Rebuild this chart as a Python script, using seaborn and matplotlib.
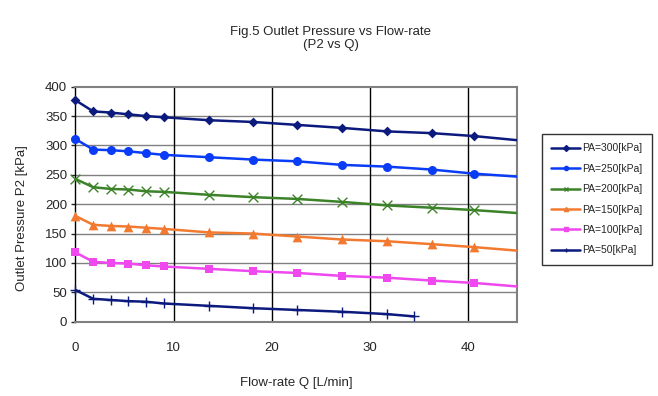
import matplotlib
matplotlib.use("Agg")
import matplotlib.pyplot as plt
from matplotlib.lines import Line2D
import pandas as pd
import seaborn as sns

# flow-rate points (L/min)
q = [0, 1.8, 3.6, 5.4, 7.2, 9.0, 13.6, 18.1, 22.6, 27.1, 31.7, 36.3, 40.6]
q_50 = [0, 1.8, 3.6, 5.4, 7.2, 9.0, 13.6, 18.1, 22.6, 27.1, 31.7, 34.5]

p2_300 = [377, 358, 356, 353, 350, 348, 343, 340, 335, 330, 324, 321, 316]
p2_250 = [311, 293, 292, 290, 287, 284, 280, 276, 273, 267, 264, 259, 252]
p2_200 = [243, 229, 226, 225, 222, 221, 216, 212, 209, 204, 198, 194, 190]
p2_150 = [180, 165, 163, 162, 160, 158, 152, 150, 145, 140, 137, 132, 127]
p2_100 = [118, 102, 100, 99, 96, 94, 90, 86, 83, 78, 75, 70, 66]
p2_50 = [54, 39, 37, 35, 34, 31, 27, 23, 20, 17, 13, 9]

# trend lines run on to the right edge of the axis
q_end = 45
p2_end = {"PA=300[kPa]": 309, "PA=250[kPa]": 247, "PA=200[kPa]": 185,
          "PA=150[kPa]": 121, "PA=100[kPa]": 60}

series = [
    ("PA=300[kPa]", q, p2_300, "#0c1a7e", "D", 5.0),
    ("PA=250[kPa]", q, p2_250, "#0a3cf5", "o", 6.5),
    ("PA=200[kPa]", q, p2_200, "#3b8228", "x", 7.0),
    ("PA=150[kPa]", q, p2_150, "#f27a30", "^", 7.0),
    ("PA=100[kPa]", q, p2_100, "#ee48ee", "s", 6.0),
    ("PA=50[kPa]", q_50, p2_50, "#0c1a7e", "+", 7.5),
]

sns.set_style("white")
plt.rcParams['font.family'] = ['Liberation Sans', 'DejaVu Sans']

fig = plt.figure(figsize=(6.58, 3.96), dpi=100)
ax = fig.add_axes([0.1147, 0.1876, 0.6714, 0.5934])

handles = []
for name, xs, ys, color, mk, ms in series:
    lx = list(xs) + ([q_end] if name in p2_end else [])
    ly = list(ys) + ([p2_end[name]] if name in p2_end else [])
    line_df = pd.DataFrame({"Q": lx, "P2": ly})
    sns.lineplot(data=line_df, x="Q", y="P2", ax=ax, color=color, lw=1.8,
                 estimator=None, sort=False, zorder=3)
    pts = pd.DataFrame({"Q": xs, "P2": ys})
    kw = dict(marker=mk, s=ms ** 2, color=color, zorder=4, clip_on=False)
    if mk in ("x", "+"):
        kw["linewidth"] = 1.0
    else:
        kw["edgecolor"] = color
        kw["linewidth"] = 0
    sns.scatterplot(data=pts, x="Q", y="P2", ax=ax, legend=False, **kw)
    handles.append(Line2D([], [], color=color, lw=1.8, marker=mk,
                          markersize=3.0, markeredgewidth=1.0, label=name))

ax.set_xlim(0, 45)
ax.set_ylim(0, 400)
ax.set_xticks([0, 10, 20, 30, 40])
ax.set_yticks(range(0, 401, 50))

for y in range(50, 400, 50):
    ax.axhline(y, color="#808080", lw=1.0, zorder=1)
for x in [10, 20, 30, 40]:
    ax.axvline(x, color="black", lw=1.0, zorder=1)

for side in ["top", "right", "bottom"]:
    ax.spines[side].set_color("#808080")
    ax.spines[side].set_linewidth(1.5)
ax.spines["left"].set_color("black")
ax.spines["left"].set_linewidth(1.0)

ax.tick_params(axis="y", left=True, length=3, width=1, labelsize=9.5, pad=3)
ax.tick_params(axis="x", bottom=False, labelsize=9.5, pad=11)

ax.set_xlabel("Flow-rate Q [L/min]", fontsize=9.5, labelpad=17)
ax.set_ylabel("Outlet Pressure P2 [kPa]", fontsize=9.5)
ax.yaxis.set_label_coords(-0.108, 0.44)

fig.text(0.503, 0.902, "Fig.5 Outlet Pressure vs Flow-rate\n(P2 vs Q)",
         ha="center", va="center", fontsize=9.5, linespacing=1.1)

leg = fig.legend(handles=handles, loc="upper left",
                 bbox_to_anchor=(541.7 / 658, 1 - 134 / 396),
                 fontsize=7.5, frameon=True, fancybox=False,
                 handlelength=2.8, handletextpad=0.2, labelspacing=1.0,
                 borderpad=0.9, borderaxespad=0)
leg.get_frame().set_edgecolor("black")
leg.get_frame().set_linewidth(1.0)

fig.savefig("out.png", dpi=100)
